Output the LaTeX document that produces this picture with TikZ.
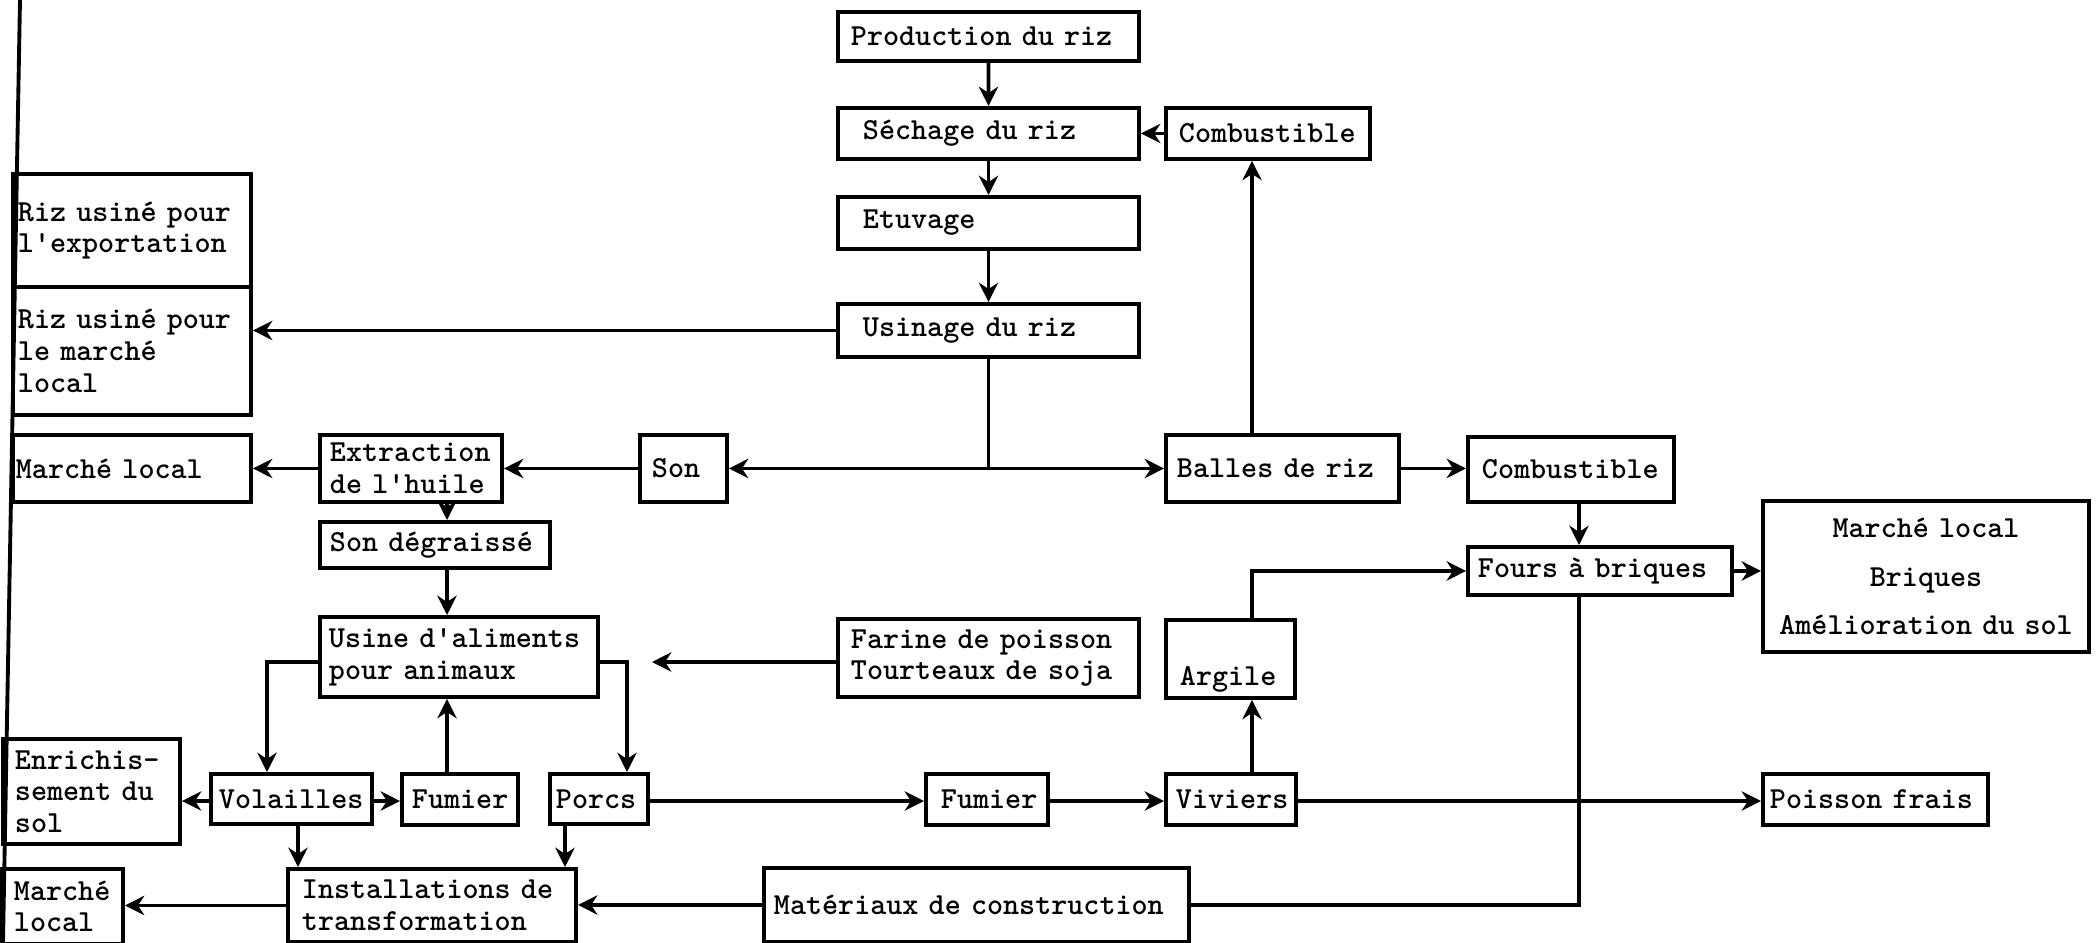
\documentclass[tikz,border=0pt]{standalone}
\usetikzlibrary{arrows.meta, positioning}
\tikzset{
  box/.style={draw, line width=1.1pt, anchor=north west, align=left, inner xsep=0.13cm, inner ysep=0pt},
  link/.style={line width=1.1pt},
  >={Stealth[length=5.5pt,width=5.5pt,inset=1.8pt]}
}

\begin{document}
\begin{tikzpicture}[x=0.01cm, y=-0.01cm, font={\fontsize{8.7}{9}\selectfont\ttfamily\bfseries}]
  \useasboundingbox (0,0) rectangle (2097,942);
  \draw[link] (20,0) -- (3,942);

  % rice chain
  \node[box, text width=2.75cm, minimum height=0.49cm] (prod) at (836,10) {Production du riz};
  \node[box, text width=2.51cm, minimum height=0.51cm, inner xsep=0.25cm] (sech) at (836,106) {Séchage du riz};
  \node[box, text width=2.51cm, minimum height=0.52cm, inner xsep=0.25cm] (etuv) at (836,195) {Etuvage};
  \node[box, text width=2.51cm, minimum height=0.53cm, inner xsep=0.25cm] (usin) at (836,302) {Usinage du riz};
  \node[box, text width=1.78cm, minimum height=0.51cm] (combA) at (1164,106) {Combustible};

  \node[box, text width=2.28cm, minimum height=1.13cm, inner xsep=0.05cm] (rizexp) at (11,172) {Riz usiné pour\\l'exportation};
  \node[box, text width=2.28cm, minimum height=1.28cm, inner xsep=0.05cm] (rizloc) at (11,285) {Riz usiné pour\\le marché\\local};
  \node[box, text width=2.32cm, minimum height=0.67cm, inner xsep=0.03cm] (mlA) at (11,433) {Marché local};
  \node[box, text width=1.62cm, minimum height=0.67cm, inner xsep=0.10cm] (extr) at (318,433) {Extraction\\de l'huile};
  \node[box, text width=0.63cm, minimum height=0.67cm, inner xsep=0.12cm] (son) at (638,433) {Son};
  \node[box, text width=2.11cm, minimum height=0.67cm, inner xsep=0.11cm] (balles) at (1164,433) {Balles de riz};
  \node[box, text width=1.78cm, minimum height=0.65cm, inner xsep=0.14cm] (combB) at (1466,435) {Combustible};

  % feed and animals
  \node[box, text width=2.10cm, minimum height=0.46cm, inner xsep=0.10cm] (sdeg) at (318,520) {Son dégraissé};
  \node[box, text width=2.60cm, minimum height=0.80cm, inner xsep=0.09cm] (usine) at (318,615) {Usine d'aliments\\pour animaux};
  \node[box, text width=2.75cm, minimum height=0.78cm] (farine) at (836,617) {Farine de poisson\\Tourteaux de soja};
  \node[box, text width=1.01cm, minimum height=0.78cm, inner xsep=0.14cm] (argile) at (1164,618) {\raisebox{-0.17cm}[\height][0pt]{Argile}};
  \node[box, text width=2.44cm, minimum height=0.48cm, inner xsep=0.10cm] (fours) at (1466,545) {Fours à briques};
  \node[box, text width=3.10cm, minimum height=1.51cm, inner xsep=0.08cm, align=center] (mlb) at (1761,499) {Marché local\\[4.7pt]Briques\\[4.7pt]Amélioration du sol};

  \node[box, text width=1.53cm, minimum height=1.05cm, inner xsep=0.12cm] (enrich) at (1,737) {Enrichis-\\sement du\\sol};
  \node[box, text width=1.45cm, minimum height=0.50cm, inner xsep=0.08cm] (vol) at (209,772) {Volailles};
  \node[box, text width=0.96cm, minimum height=0.51cm, inner xsep=0.10cm] (fumA) at (400,772) {Fumier};
  \node[box, text width=0.86cm, minimum height=0.50cm, inner xsep=0.06cm] (porcs) at (548,772) {Porcs};
  \node[box, text width=0.92cm, minimum height=0.51cm, inner xsep=0.15cm] (fumB) at (924,772) {Fumier};
  \node[box, text width=1.10cm, minimum height=0.51cm, inner xsep=0.10cm] (viv) at (1164,772) {Viviers};
  \node[box, text width=2.11cm, minimum height=0.51cm, inner xsep=0.07cm] (poisson) at (1761,772) {Poisson frais};

  \node[box, text width=0.97cm, minimum height=0.75cm, inner xsep=0.12cm] (mlC) at (0,867) {Marché\\local};
  \node[box, text width=2.60cm, minimum height=0.73cm, inner xsep=0.14cm] (inst) at (286,867) {Installations de\\transformation};
  \node[box, text width=4.05cm, minimum height=0.74cm, inner xsep=0.10cm] (mat) at (762,866) {Matériaux de construction};

  % columns and rows of the connectors
  \coordinate (cb) at (1252,0);
  \coordinate (cf) at (1579,0);
  \coordinate (cs) at (447,0);
  \coordinate (cv) at (298,0);
  \coordinate (cp) at (565,0);
  \coordinate (ul) at (267,662);
  \coordinate (ur) at (627,662);
  \coordinate (fa) at (652,662);
  \coordinate (rw) at (0,801);

  \foreach \a/\b in {prod/sech, sech/etuv, etuv/usin}
    \draw[link,->] (\a.south) -- (\b.north);
  \foreach \a/\b in {combA/sech, son/extr, extr/mlA, mat/inst}
    \draw[link,->] (\a.west) -- (\b.east |- \a.west);
  \draw[link,->] (usin.west) -- (usin.west -| rizloc.east);
  \draw[link] (usin.south) -- (usin.south |- son.east) coordinate (us);
  \draw[link,->] (us) -- (son.east);
  \draw[link,->] (us) -- (balles.west);
  \draw[link,->] (balles.north -| cb) -- (combA.south -| cb);
  \draw[link,->] (balles.east) -- (combB.west |- balles.east);

  \draw[link,->] (extr.south -| cs) -- (sdeg.north -| cs);
  \draw[link,->] (sdeg.south -| cs) -- (usine.north -| cs);
  \draw[link,->] (fumA.north -| cs) -- (usine.south -| cs);
  \draw[link,->] (usine.west |- ul) -| (vol.north -| ul);
  \draw[link,->] (usine.east |- ur) -| (porcs.north -| ur);
  \draw[link,->] (farine.west |- fa) -- (fa);

  \draw[link,->] (vol.west |- rw) -- (enrich.east |- rw);
  \foreach \a/\b in {vol/fumA, porcs/fumB, fumB/viv, viv/poisson}
    \draw[link,->] (\a.east |- rw) -- (\b.west |- rw);
  \draw[link,->] (vol.south -| cv) -- (inst.north -| cv);
  \draw[link,->] (porcs.south -| cp) -- (inst.north -| cp);
  \draw[link,->] (inst.west) -- (mlC.east |- inst.west);

  \draw[link,->] (viv.north -| cb) -- (argile.south -| cb);
  \draw[link,->] (argile.north -| cb) |- (fours.west);
  \draw[link,->] (combB.south -| cf) -- (fours.north -| cf);
  \draw[link,->] (fours.east) -- (fours.east -| mlb.west);
  \draw[link] (fours.south -| cf) |- (mat.east);
\end{tikzpicture}
\end{document}
